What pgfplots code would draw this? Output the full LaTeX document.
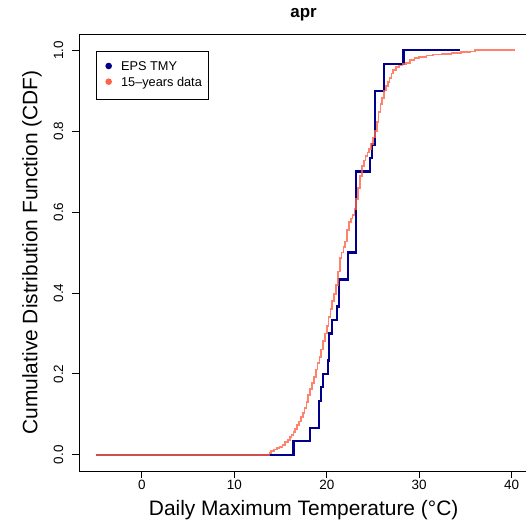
\documentclass[border=0pt]{standalone}
\usepackage{fontspec}
\setmainfont{Liberation Sans}
\usepackage{pgfplots}
\pgfplotsset{compat=1.18}
\definecolor{tmyblue}{RGB}{0,0,139}
\definecolor{obsorange}{RGB}{255,99,71}
\begin{document}
\begin{tikzpicture}
\begin{axis}[
  at={(79bp,59bp)}, anchor=south west,
  scale only axis, width=449.3bp, height=437bp,
  xmin=-6.8, xmax=41.8, ymin=-0.04, ymax=1.04,
  xtick={0,10,20,30,40}, ytick={0,0.2,0.4,0.6,0.8,1},
  tick pos=left, tick align=outside, major tick length=7bp,
  every tick/.style={black, line width=0.8bp},
  axis line style={line width=0.8bp},
  /pgf/number format/assume math mode=true,
  ticklabel style={font=\fontsize{13.5}{16}\selectfont},
  xticklabel style={anchor=north, inner sep=0pt, yshift=-2bp},
  yticklabel style={/pgf/number format/fixed, /pgf/number format/fixed zerofill, /pgf/number format/precision=1, xshift=-9bp, rotate=90, anchor=base, inner sep=0pt},
  xlabel={Daily Maximum Temperature (°C)},
  ylabel={Cumulative Distribution Function (CDF)},
  label style={font=\fontsize{21}{25}\selectfont},
  xlabel style={at={(axis description cs:0.5,-0.1007)}, anchor=base},
  ylabel style={at={(axis description cs:-0.0924,0.5)}, anchor=base},
  title={apr},
  title style={font=\bfseries\fontsize{17}{20}\selectfont, at={(axis description cs:0.5,1)}, anchor=base, yshift=10.7bp},
  legend style={at={(rel axis cs:0.0378,0.9618)}, anchor=north west, draw=black, line width=0.8bp, fill=white,
     font=\fontsize{12.8}{15}\selectfont, inner xsep=6bp, inner ysep=10bp, row sep=3.2bp,
     nodes={inner sep=0pt, text height=9.5bp, text depth=3bp}},
  legend cell align=left,
  legend image code/.code={\path[draw=none,fill=none] (0bp,-5bp) rectangle (18.7bp,5bp); \fill[draw=none] (6.3bp,1.35bp) circle (3.3bp);},
]
\addplot[const plot, tmyblue, line width=2.2bp, forget plot] table {
x y
-5 0
16.4 0.0333
18.2 0.0667
19.2 0.1333
19.4 0.1667
19.6 0.2
20.1 0.2333
20.2 0.3
20.6 0.3333
21.1 0.3667
21.35 0.4333
22.3 0.5
23.2 0.7
24.7 0.7333
24.9 0.7667
25.2 0.9
26.2 0.9667
28.3 1.0
34.4 1.0
};
\addplot[const plot, obsorange, opacity=0.8, line width=1.7bp, forget plot] table {
x y
-5 0
13.8 0.004
14.0 0.009
14.3 0.013
14.6 0.016
14.9 0.02
15.2 0.024
15.5 0.031
15.8 0.036
16.0 0.044
16.2 0.049
16.4 0.056
16.6 0.064
16.8 0.073
17.0 0.082
17.2 0.093
17.4 0.104
17.6 0.116
17.8 0.13
18.0 0.147
18.2 0.162
18.4 0.178
18.6 0.193
18.8 0.211
19.0 0.227
19.2 0.242
19.4 0.26
19.6 0.282
19.8 0.3
20.0 0.318
20.2 0.34
20.4 0.36
20.6 0.38
20.8 0.398
21.0 0.42
21.2 0.453
21.4 0.487
21.6 0.5
21.8 0.513
22.0 0.527
22.2 0.556
22.4 0.575
22.6 0.584
22.8 0.593
23.0 0.607
23.2 0.633
23.4 0.66
23.6 0.689
23.8 0.713
24.0 0.727
24.2 0.738
24.4 0.747
24.6 0.756
24.8 0.769
25.0 0.784
25.2 0.8
25.4 0.822
25.6 0.847
25.8 0.867
26.0 0.882
26.2 0.9
26.4 0.911
26.6 0.922
26.8 0.932
27.0 0.942
27.2 0.951
27.5 0.958
27.8 0.962
28.2 0.966
28.6 0.969
29.0 0.975
29.5 0.98
30.0 0.984
30.8 0.987
31.5 0.989
32.5 0.991
33.5 0.993
34.5 0.995
35.5 0.997
36.0 1.0
40.4 1.0
};
\addlegendimage{color=tmyblue}
\addlegendentry{EPS TMY}
\addlegendimage{color=obsorange}
\addlegendentry{15–years data}
\end{axis}
\pgfresetboundingbox
\useasboundingbox (0,0) rectangle (526bp,530bp);
\end{tikzpicture}
\end{document}
